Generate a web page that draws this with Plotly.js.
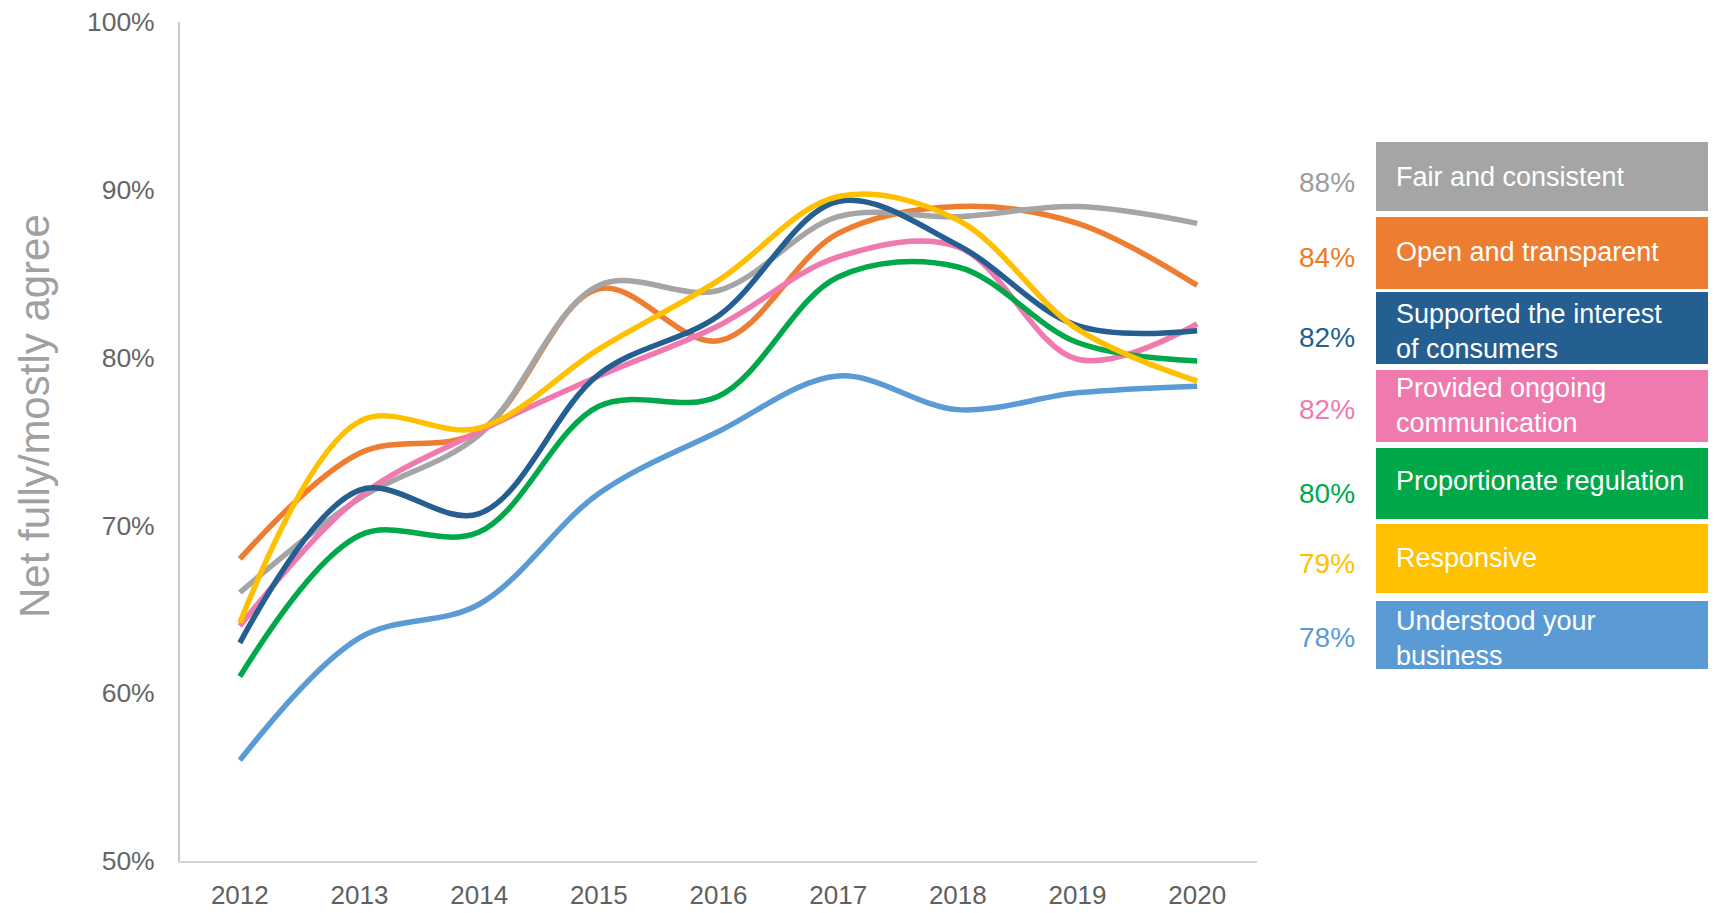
<!DOCTYPE html>
<html>
<head>
<meta charset="utf-8">
<script src="https://cdn.plot.ly/plotly-3.0.1.min.js"></script>
<style>
  html, body { margin: 0; padding: 0; background: #ffffff; }
  #chart { width: 1718px; height: 913px; }
</style>
</head>
<body>
<div id="chart"></div>
<script>
// ---- Data ----
const years = ['2012', '2013', '2014', '2015', '2016', '2017', '2018', '2019', '2020'];

const seriesNames = [
  'Fair and consistent',
  'Open and transparent',
  'Supported the interest of consumers',
  'Provided ongoing communication',
  'Proportionate regulation',
  'Responsive',
  'Understood your business'
];

const boxLabels = [
  'Fair and consistent',
  'Open and transparent',
  'Supported the interest<br>of consumers',
  'Provided ongoing<br>communication',
  'Proportionate regulation',
  'Responsive',
  'Understood your<br>business'
];

const fairConsistent      = [66.0, 71.6, 75.4, 84.3, 84.0, 88.4, 88.4, 89.0, 88.0];
const openTransparent     = [68.0, 74.3, 75.6, 84.1, 81.0, 87.4, 89.0, 88.0, 84.3];
const supportedConsumers  = [63.0, 72.1, 70.7, 79.0, 82.5, 89.3, 86.7, 81.9, 81.6];
const ongoingCommunication= [64.0, 71.7, 75.6, 78.9, 81.9, 86.0, 86.6, 79.9, 82.0];
const proportionateReg    = [61.0, 69.4, 69.6, 77.1, 77.7, 84.8, 85.4, 80.9, 79.8];
const responsive          = [64.2, 76.2, 75.8, 80.5, 84.6, 89.6, 88.2, 81.7, 78.6];
const understoodBusiness  = [56.0, 63.3, 65.3, 71.9, 75.6, 78.9, 76.9, 77.9, 78.3];

const allSeries = [fairConsistent, openTransparent, supportedConsumers, ongoingCommunication,
                   proportionateReg, responsive, understoodBusiness];

const yTickVals = [50, 60, 70, 80, 90, 100];
const yTickText = yTickVals.map(v => v + '%');
const yAxisTitle = 'Net fully/mostly agree';

// ---- Styles ----
const colors = ['#A5A5A5', '#ED7D31', '#255E91', '#F07AAF', '#00A84A', '#FFC000', '#5B9BD5'];
const pctColors = ['#9C9C9C', '#F07A22', '#255E91', '#F07AAF', '#00A84A', '#FFC000', '#5B9BD5'];
const drawOrder = [6, 1, 0, 3, 4, 2, 5];

// ---- Layout geometry (pixels) ----
const W = 1718, H = 913;
const M = { l: 180, r: 461, t: 22, b: 52 };
const PL = M.l, PR = W - M.r, PT = M.t, PB = H - M.b;
const px = x => (x - PL) / (PR - PL);
const py = y => (PB - y) / (PB - PT);

const boxLeft = 1376, boxRight = 1708;
const boxTop    = [142, 217, 292, 370, 448, 524, 601];
const boxBottom = [211, 289, 364, 442, 519, 593, 669];
const textCenter = [177, 252, 331, 405, 481, 558, 638];
const pctCenter  = [183, 257, 337, 409, 493, 563, 637];

const traces = drawOrder.map(i => ({
  type: 'scatter',
  mode: 'lines',
  name: seriesNames[i],
  x: years,
  y: allSeries[i],
  line: { color: colors[i], width: 5.5, shape: 'spline', smoothing: 1 },
  hoverinfo: 'x+y+name'
}));

const shapes = [];
const annotations = [];
for (let i = 0; i < seriesNames.length; i++) {
  shapes.push({
    type: 'rect', xref: 'paper', yref: 'paper',
    x0: px(boxLeft), x1: px(boxRight),
    y0: py(boxBottom[i]), y1: py(boxTop[i]),
    fillcolor: colors[i], line: { width: 0 }, layer: 'above'
  });
  annotations.push({
    xref: 'paper', yref: 'paper',
    x: px(1394), y: py(textCenter[i]),
    xanchor: 'left', yanchor: 'middle', align: 'left',
    text: boxLabels[i], showarrow: false,
    font: { family: 'Liberation Sans, Arial, sans-serif', size: 27, color: '#ffffff' }
  });
  const last = allSeries[i][allSeries[i].length - 1];
  annotations.push({
    xref: 'paper', yref: 'paper',
    x: px(1357), y: py(pctCenter[i]),
    xanchor: 'right', yanchor: 'middle',
    text: Math.round(last) + '%', showarrow: false,
    font: { family: 'Liberation Sans, Arial, sans-serif', size: 28, color: pctColors[i] }
  });
}

// y-axis title (placed as rotated text at its exact spot)
annotations.push({
  xref: 'paper', yref: 'paper',
  x: px(34), y: py(416),
  xanchor: 'center', yanchor: 'middle',
  textangle: -90, text: yAxisTitle, showarrow: false,
  font: { family: 'Liberation Sans, Arial, sans-serif', size: 42, color: '#a0a0a0' }
});

const layout = {
  width: W, height: H, autosize: false,
  margin: M,
  paper_bgcolor: '#ffffff', plot_bgcolor: '#ffffff',
  showlegend: false,
  font: { family: 'Liberation Sans, Arial, sans-serif', color: '#666666' },
  xaxis: {
    type: 'category',
    range: [-0.5, 8.5],
    showgrid: false, zeroline: false,
    showline: true, linecolor: '#d4d4d4', linewidth: 2,
    ticks: '', ticklabelstandoff: 10,
    tickfont: { size: 26, color: '#606060' },
    fixedrange: true
  },
  yaxis: {
    range: [50, 100],
    tickmode: 'array', tickvals: yTickVals, ticktext: yTickText,
    showgrid: false, zeroline: false,
    showline: true, linecolor: '#c8c8c8', linewidth: 2,
    ticks: '', ticklabelstandoff: 18,
    tickfont: { size: 26.5, color: '#666666' },
    automargin: false,
    fixedrange: true
  },
  shapes: shapes,
  annotations: annotations
};

Plotly.newPlot('chart', traces, layout, { displayModeBar: false, staticPlot: true });
</script>
</body>
</html>
